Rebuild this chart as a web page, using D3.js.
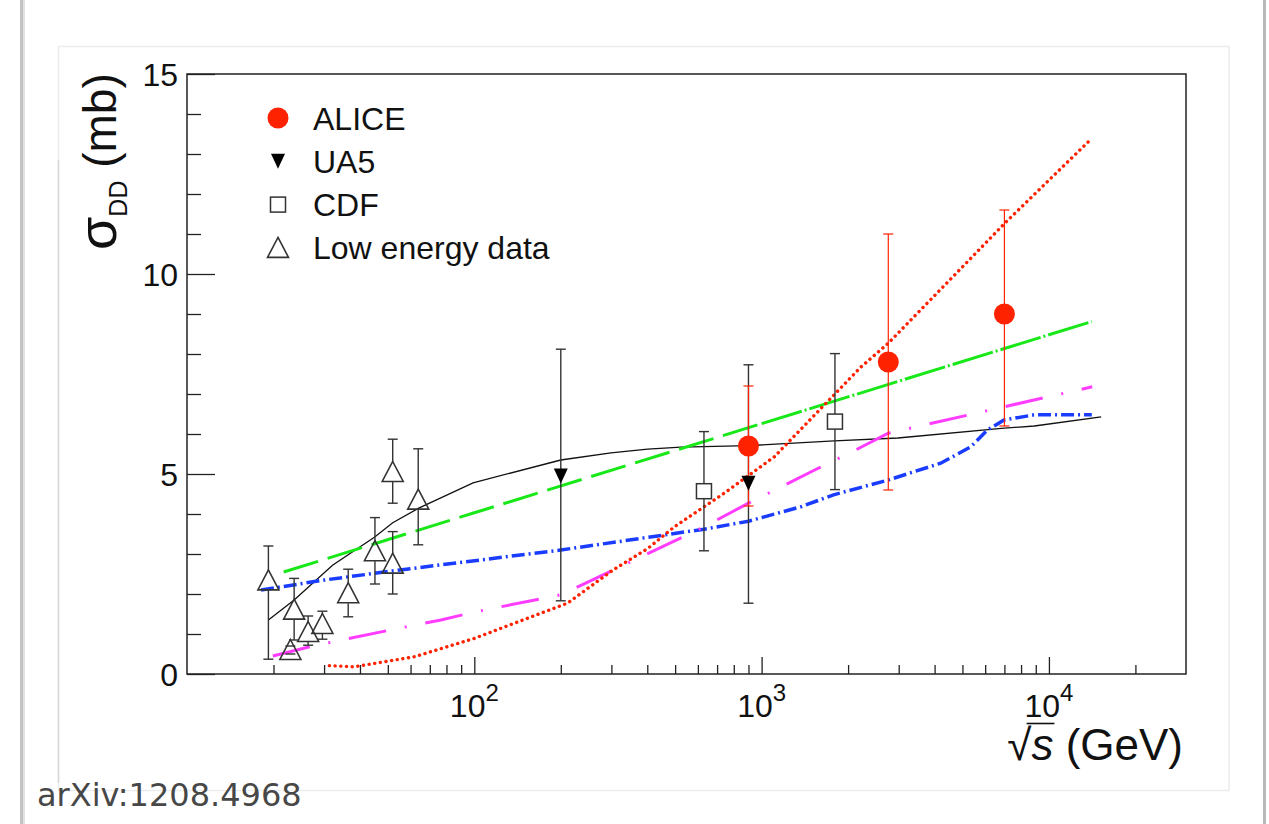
<!DOCTYPE html>
<html><head><meta charset="utf-8">
<script src="https://cdn.jsdelivr.net/npm/d3@7"></script>
<style>html,body{margin:0;padding:0;background:#fff;overflow:hidden}</style>
</head><body><svg id="c" width="1269" height="824"></svg>
<script>
// ---------------- data ----------------
const aliceE  = [900, 2760, 7000];
const aliceV  = [5.7, 7.8, 9.0];
const aliceHi = [7.2, 11.0, 11.6];
const aliceLo = [4.2, 4.6, 6.2];

const ua5E  = [200, 900];
const ua5V  = [4.95, 4.77];
const ua5Hi = [8.12, 7.73];
const ua5Lo = [1.83, 1.77];

const cdfE  = [630, 1800];
const cdfV  = [4.57, 6.31];
const cdfHi = [6.06, 8.01];
const cdfLo = [3.08, 4.61];

const lowE  = [19.2, 22.9, 23.6, 26.4, 29.6, 36.4, 45.1, 52, 52, 63.8];
const lowV  = [2.34, 0.6, 1.61, 1.05, 1.25, 2.02, 3.07, 2.76, 5.05, 4.36];
const lowHi = [3.2, 0.7, 2.39, 1.45, 1.57, 2.62, 3.91, 3.56, 5.87, 5.63];
const lowLo = [0.37, 0.5, 0.85, 0.72, 0.87, 1.43, 2.25, 2.0, 4.27, 3.23];

const blackE = [19.2, 23.6, 32.1, 44.9, 52, 63.8, 99, 200, 299, 401, 524, 900, 1790, 2980, 6830, 8900, 15200];
const blackV = [1.35, 1.85, 2.72, 3.42, 3.78, 4.14, 4.78, 5.35, 5.53, 5.62, 5.67, 5.71, 5.83, 5.9, 6.14, 6.2, 6.43];

const greenE = [21.7, 100, 1000, 10000, 14100];
const greenV = [2.55, 4.03, 6.26, 8.48, 8.81];

const blueE = [18.1, 30.1, 49.9, 76.6, 105, 200, 630, 900, 1370, 1780, 2760, 4200, 5350, 6110, 6980, 8890, 14100];
const blueV = [2.1, 2.35, 2.56, 2.73, 2.85, 3.1, 3.62, 3.82, 4.18, 4.48, 4.85, 5.27, 5.68, 6.1, 6.35, 6.48, 6.48];

const magE = [19.9, 27.4, 52.6, 76.6, 98.7, 200, 342, 615, 900, 1530, 2020, 2760, 6980, 14150];
const magV = [0.45, 0.7, 1.12, 1.35, 1.54, 1.98, 2.77, 3.64, 4.27, 5.1, 5.52, 6.02, 6.68, 7.18];

const redE = [31.3, 38.2, 61.8, 100, 211, 304, 402, 497, 741, 1107, 2220, 2760, 5410, 7020, 14100];
const redV = [0.21, 0.18, 0.43, 0.89, 1.77, 2.6, 3.14, 3.68, 4.52, 5.43, 7.68, 8.27, 10.43, 11.27, 13.39];

const xMajor = [100, 1000, 10000];
const xMajorExp = ["2", "3", "4"];
const yMajor = [0, 5, 10, 15];
const legendLabels = ["ALICE", "UA5", "CDF", "Low energy data"];

// ---------------- setup ----------------
const svg = d3.select('#c');
const FONT = "'Liberation Sans', Arial, Helvetica, sans-serif";
const RED = "#ff2200", GREEN = "#18e818", BLUE = "#1a3cff", MAG = "#ff3cff", INK = "#222";

// page decoration
svg.append('rect').attr('x',0).attr('y',0).attr('width',1269).attr('height',824).attr('fill','#fff');
svg.append('rect').attr('x',20).attr('y',0).attr('width',3).attr('height',824).attr('fill','#c2c2c2');
svg.append('rect').attr('x',23).attr('y',0).attr('width',2).attr('height',824).attr('fill','#e2e2e2');
svg.append('rect').attr('x',58.5).attr('y',46.5).attr('width',1170.5).attr('height',744)
   .attr('fill','#fff').attr('stroke','#ececec').attr('stroke-width',1.5);
svg.append('line').attr('x1',58.5).attr('x2',58.5).attr('y1',160).attr('y2',783).attr('stroke','#d8d8d8').attr('stroke-width',1.5);
svg.append('rect').attr('x',1263).attr('y',0).attr('width',3).attr('height',824).attr('fill','#b8b8b8');

const x = d3.scaleLog().domain([10, 30000]).range([187, 1186]);
const y = d3.scaleLinear().domain([0, 15]).range([674, 74]);

// ---------------- axes ----------------
const xMinor = x.ticks().filter(v => !xMajor.includes(v) && v > 10 && v < 30000);
const yMinor = d3.range(1, 15).filter(v => v % 5 !== 0);

function styleAxis(g){ g.select('.domain').remove(); g.selectAll('line').attr('stroke',INK).attr('stroke-width',1.3); }

svg.append('g').attr('transform','translate(0,674)')
  .call(d3.axisBottom(x).tickValues(xMajor).tickSize(-17).tickFormat('')).call(styleAxis);
svg.append('g').attr('transform','translate(0,674)')
  .call(d3.axisBottom(x).tickValues(xMinor).tickSize(-9).tickFormat('')).call(styleAxis);
const gy = svg.append('g').attr('transform','translate(187,0)')
  .call(d3.axisLeft(y).tickValues(yMajor).tickSize(-28).tickPadding(9).tickFormat(d3.format('d'))).call(styleAxis);
gy.selectAll('text').attr('font-family',FONT).attr('font-size',32).attr('fill','#111').attr('dy','0.36em');
svg.append('g').attr('transform','translate(187,0)')
  .call(d3.axisLeft(y).tickValues(yMinor).tickSize(-14).tickFormat('')).call(styleAxis);

// x tick labels 10^n
xMajor.forEach((v,i) => {
  const t = svg.append('text').attr('x', x(v)).attr('y', 717).attr('text-anchor','middle')
    .attr('font-family',FONT).attr('fill','#111');
  t.append('tspan').attr('font-size',32).text('10');
  t.append('tspan').attr('font-size',24).attr('dy',-16).text(xMajorExp[i]);
});

// frame
svg.append('rect').attr('x',187).attr('y',74).attr('width',999).attr('height',600)
  .attr('fill','none').attr('stroke',INK).attr('stroke-width',1.5);

// ---------------- curves ----------------
const line = d3.line().x(d => x(d[0])).y(d => y(d[1]));
function curve(E, V, color, width, dash, filterFn){
  let pts = E.map((e,i) => [e, V[i]]);
  if (filterFn) pts = pts.filter(filterFn);
  svg.append('path').attr('d', line(pts)).attr('fill','none').attr('stroke',color)
    .attr('stroke-width',width).attr('stroke-dasharray',dash);
}
curve(blackE, blackV, '#111', 1.3, null);
curve(greenE, greenV, GREEN, 3, '36,10', d => d[0] <= 1000);
curve(greenE, greenV, GREEN, 3, '42,3,2,3', d => d[0] >= 1000);
curve(blueE, blueV, BLUE, 3.5, '13,4,2,4');
curve(magE, magV, MAG, 3, '38,19,2,19');
svg.append('path').attr('d', line(redE.map((e,i)=>[e,redV[i]]))).attr('fill','none')
  .attr('stroke',RED).attr('stroke-width',3.4).attr('stroke-dasharray','0.1,5.6').attr('stroke-linecap','round');

// ---------------- error bars & markers ----------------
function errBars(E, V, Hi, Lo, color, width, gapHalf){
  E.forEach((e,i) => {
    const px = x(e), pv = y(V[i]), ph = y(Hi[i]), pl = y(Lo[i]);
    const segs = gapHalf ? [[ph, pv - gapHalf], [pv + gapHalf, pl]] : [[ph, pl]];
    segs.forEach(s => { if (s[1] > s[0]) svg.append('line').attr('x1',px).attr('x2',px)
        .attr('y1',s[0]).attr('y2',s[1]).attr('stroke',color).attr('stroke-width',width); });
    [ph, pl].forEach(py => svg.append('line').attr('x1',px-5).attr('x2',px+5).attr('y1',py).attr('y2',py)
        .attr('stroke',color).attr('stroke-width',width));
  });
}
errBars(lowE, lowV, lowHi, lowLo, '#333', 1.4, 10);
errBars(cdfE, cdfV, cdfHi, cdfLo, '#333', 1.4, 7.5);
errBars(ua5E, ua5V, ua5Hi, ua5Lo, '#333', 1.4, 0);
errBars(aliceE, aliceV, aliceHi, aliceLo, RED, 1.2, 0);

const triUp = 'M0,-10.5L10.5,9.5L-10.5,9.5Z';
const triDown = 'M-7,-7.5L7,-7.5L0,7.5Z';
function drawLow(g){ g.append('path').attr('d',triUp).attr('fill','none').attr('stroke','#333').attr('stroke-width',1.6); }
function drawCdf(g){ g.append('rect').attr('x',-7.5).attr('y',-7.5).attr('width',15).attr('height',15)
  .attr('fill','#fff').attr('stroke','#333').attr('stroke-width',1.5); }
function drawUa5(g){ g.append('path').attr('d',triDown).attr('fill','#000'); }
function drawAlice(g){ g.append('circle').attr('r',10.5).attr('fill',RED); }

lowE.forEach((e,i)=> drawLow(svg.append('g').attr('transform',`translate(${x(e)},${y(lowV[i])})`)));
cdfE.forEach((e,i)=> drawCdf(svg.append('g').attr('transform',`translate(${x(e)},${y(cdfV[i])})`)));
ua5E.forEach((e,i)=> drawUa5(svg.append('g').attr('transform',`translate(${x(e)},${y(ua5V[i])})`)));
aliceE.forEach((e,i)=> drawAlice(svg.append('g').attr('transform',`translate(${x(e)},${y(aliceV[i])})`)));

// ---------------- legend ----------------
const drawers = [drawAlice, drawUa5, drawCdf, drawLow];
legendLabels.forEach((lab,i) => {
  const cy = 118 + i*43.3;
  drawers[i](svg.append('g').attr('transform',`translate(278,${cy})`));
  svg.append('text').attr('x',313).attr('y',cy+11.5).attr('font-family',FONT).attr('font-size',32)
    .attr('fill','#111').text(lab);
});

// ---------------- axis titles ----------------
const xt = svg.append('text').attr('x',1183).attr('y',760).attr('text-anchor','end')
  .attr('font-family',FONT).attr('font-size',44).attr('fill','#111');
xt.append('tspan').text('√');
xt.append('tspan').attr('font-style','italic').text('s');
xt.append('tspan').text(' (GeV)');
const n = xt.node();
const e0 = n.getExtentOfChar(0), e1 = n.getExtentOfChar(1);
svg.append('line').attr('x1', e0.x + e0.width*0.8).attr('x2', e1.x + e1.width + 1)
  .attr('y1', 723.5).attr('y2', 723.5).attr('stroke','#111').attr('stroke-width',1.6);

const yt = svg.append('text').attr('transform','translate(116,250) rotate(-90)')
  .attr('font-family',FONT).attr('font-size',46).attr('fill','#111');
yt.append('tspan').attr('font-size',54).text('σ');
yt.append('tspan').attr('font-size',25).attr('dy',11).text('DD');
yt.append('tspan').attr('dy',-11).text(' (mb)');

// caption
svg.append('text').attr('x',37).attr('y',806).attr('font-family',"'DejaVu Sans', Verdana, sans-serif")
  .attr('font-size',32).attr('fill','#474747').text('arXiv:1208.4968');
</script></body></html>
